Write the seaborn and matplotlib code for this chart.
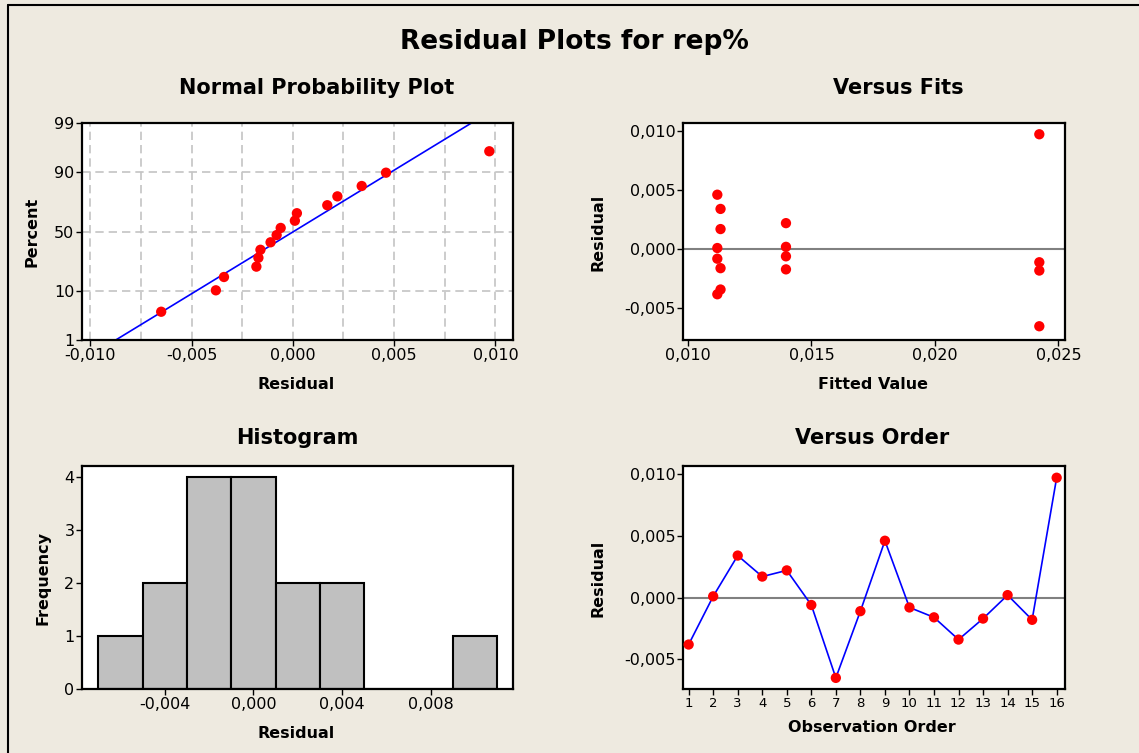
import numpy as np
import pandas as pd
import matplotlib
matplotlib.use("Agg")
import matplotlib.pyplot as plt
from matplotlib.ticker import FuncFormatter, FixedLocator
from matplotlib.lines import Line2D
import seaborn as sns
from statistics import NormalDist

# ---------------- data ----------------
observation = list(range(1, 17))
residuals = [-0.0038, 0.0001, 0.0034, 0.0017, 0.0022, -0.0006, -0.0065, -0.0011,
             0.0046, -0.0008, -0.0016, -0.0034, -0.0017, 0.0002, -0.0018, 0.0097]
fitted = [0.01119, 0.01119, 0.01132, 0.01132, 0.01397, 0.01397, 0.02423, 0.02423,
          0.01119, 0.01119, 0.01132, 0.01132, 0.01397, 0.01397, 0.02423, 0.02423]
prob_ticks = [1, 10, 50, 90, 99]
hist_edges = [-0.007, -0.005, -0.003, -0.001, 0.001, 0.003, 0.005, 0.007, 0.009, 0.011]

df = pd.DataFrame({"obs": observation, "resid": residuals, "fit": fitted})

# ---------------- style ----------------
sns.set_theme(style="white")
plt.rcParams["font.family"] = ["DejaVu Sans"]
BG = "#EEEAE0"
RED = "#FF0000"
BLUE = "#0000FF"

W, H = 1139, 753
fig = plt.figure(figsize=(W / 100, H / 100), dpi=100, facecolor=BG)

def rect(l, t, r, b):
    return [l / W, 1 - b / H, (r - l) / W, (b - t) / H]

ax_np = fig.add_axes(rect(82, 123, 513, 340))
ax_fv = fig.add_axes(rect(683, 123, 1065, 340))
ax_hi = fig.add_axes(rect(82, 466, 513, 689))
ax_or = fig.add_axes(rect(683, 466, 1065, 689))

comma = FuncFormatter(lambda v, p: ("%.3f" % v).replace(".", ",").replace("-0,000", "0,000"))

for ax in (ax_np, ax_fv, ax_hi, ax_or):
    ax.set_facecolor("white")
    for s in ax.spines.values():
        s.set_color("black")
        s.set_linewidth(1.6)
        s.set_visible(True)
    ax.tick_params(direction="out", length=4, width=1, color="black",
                   labelsize=11.5, labelcolor="black", pad=1.5,
                   bottom=True, left=True)

# ---------------- normal probability plot ----------------
nd = NormalDist()
n = len(residuals)
srt = np.sort(np.array(residuals))
pvals = [(i - 0.3) / (n + 0.4) for i in range(1, n + 1)]
zvals = [nd.inv_cdf(p) for p in pvals]
mu = float(np.mean(residuals))
sd = float(np.std(residuals, ddof=1))
z_lo, z_hi = nd.inv_cdf(0.01), nd.inv_cdf(0.99)
zl = np.linspace(z_lo, z_hi, 50)
line_df = pd.DataFrame({"x": mu + sd * zl, "z": zl})
pts_df = pd.DataFrame({"x": srt, "z": zvals})

for gx in np.arange(-0.010, 0.0101, 0.0025):
    ax_np.axvline(gx, color="#C4C4C4", lw=1.2, ls=(0, (5, 3)), zorder=0)
for pt in prob_ticks:
    ax_np.axhline(nd.inv_cdf(pt / 100), color="#C4C4C4", lw=1.2, ls=(0, (5, 3)), zorder=0)
sns.lineplot(data=line_df, x="x", y="z", ax=ax_np, color=BLUE, lw=1.2, sort=False, zorder=2)
sns.scatterplot(data=pts_df, x="x", y="z", ax=ax_np, color=RED, s=55, edgecolor="none", zorder=3)
ax_np.set_xlim(-0.01041, 0.01087)
ax_np.set_ylim(z_lo, z_hi)
ax_np.yaxis.set_major_locator(FixedLocator([nd.inv_cdf(p / 100) for p in prob_ticks]))
ax_np.yaxis.set_major_formatter(FuncFormatter(lambda v, p: str(prob_ticks[p]) if p is not None and p < len(prob_ticks) else ""))
ax_np.xaxis.set_major_locator(FixedLocator([-0.010, -0.005, 0.0, 0.005, 0.010]))
ax_np.xaxis.set_major_formatter(comma)

# ---------------- versus fits ----------------
ax_fv.axhline(0, color="#808080", lw=1.5, zorder=1)
sns.scatterplot(data=df, x="fit", y="resid", ax=ax_fv, color=RED, s=55, edgecolor="none", zorder=3)
ax_fv.set_xlim(0.0098, 0.02527)
ax_fv.set_ylim(-0.00766, 0.01065)
ax_fv.xaxis.set_major_locator(FixedLocator([0.010, 0.015, 0.020, 0.025]))
ax_fv.yaxis.set_major_locator(FixedLocator([-0.005, 0.0, 0.005, 0.010]))
ax_fv.xaxis.set_major_formatter(comma)
ax_fv.yaxis.set_major_formatter(comma)

# ---------------- histogram ----------------
sns.histplot(data=df, x="resid", bins=hist_edges, ax=ax_hi, color="#C0C0C0",
             edgecolor="black", linewidth=1.5, alpha=1.0, stat="count")
ax_hi.set_xlim(-0.00773, 0.0117)
ax_hi.set_ylim(0, 4.21)
ax_hi.xaxis.set_major_locator(FixedLocator([-0.004, 0.0, 0.004, 0.008]))
ax_hi.xaxis.set_major_formatter(comma)
ax_hi.yaxis.set_major_locator(FixedLocator([0, 1, 2, 3, 4]))

# ---------------- versus order ----------------
ax_or.axhline(0, color="#808080", lw=1.5, zorder=1)
sns.lineplot(data=df, x="obs", y="resid", ax=ax_or, color=BLUE, lw=1.2, zorder=2)
sns.scatterplot(data=df, x="obs", y="resid", ax=ax_or, color=RED, s=55, edgecolor="none", zorder=3)
ax_or.set_xlim(0.77, 16.34)
ax_or.set_ylim(-0.0074, 0.01065)
ax_or.xaxis.set_major_locator(FixedLocator(observation))
ax_or.yaxis.set_major_locator(FixedLocator([-0.005, 0.0, 0.005, 0.010]))
ax_or.yaxis.set_major_formatter(comma)
ax_or.tick_params(axis="x", labelsize=9.5)

# ---------------- labels ----------------
def place_labels(ax, xl, yl, xl_px, yl_px, box):
    l, t, r, b = box
    ax.set_xlabel(xl, fontsize=11.5, fontweight="bold", color="black")
    ax.set_ylabel(yl, fontsize=11.5, fontweight="bold", color="black")
    ax.xaxis.set_label_coords((xl_px[0] - l) / (r - l), (b - xl_px[1]) / (b - t))
    ax.yaxis.set_label_coords((yl_px[0] - l) / (r - l), (b - yl_px[1]) / (b - t))
    ax.xaxis.label.set_va("center")
    ax.yaxis.label.set_va("center")

place_labels(ax_np, "Residual", "Percent", (296, 384), (32, 232), (82, 123, 513, 340))
place_labels(ax_fv, "Fitted Value", "Residual", (873, 384), (598, 232), (683, 123, 1065, 340))
place_labels(ax_hi, "Residual", "Frequency", (296, 733), (43, 578), (82, 466, 513, 689))
place_labels(ax_or, "Observation Order", "Residual", (872, 728), (598, 578), (683, 466, 1065, 689))

def ftext(x, y, s, size):
    fig.text(x / W, 1 - y / H, s, ha="center", va="center", fontsize=size,
             fontweight="bold", color="black")

ftext(574, 42, "Residual Plots for rep%", 19)
ftext(317, 88, "Normal Probability Plot", 15)
ftext(898, 88, "Versus Fits", 15)
ftext(297, 438, "Histogram", 15)
ftext(872, 438, "Versus Order", 15)

# outer frame (left and top edges only)
fig.lines.append(Line2D([8 / W, 8 / W], [0, 1 - 5 / H], transform=fig.transFigure,
                        color="black", lw=1.5))
fig.lines.append(Line2D([8 / W, 1], [1 - 5 / H, 1 - 5 / H], transform=fig.transFigure,
                        color="black", lw=1.5))

fig.savefig("out.png", dpi=100, facecolor=BG)
